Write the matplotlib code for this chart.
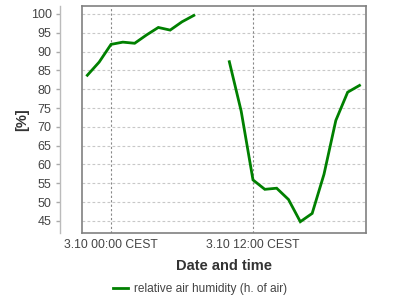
import numpy as np
import matplotlib
matplotlib.use("Agg")
import matplotlib.pyplot as plt
from matplotlib.lines import Line2D

plt.rcParams['font.family'] = ['Liberation Sans', 'DejaVu Sans']

hours = [-2, -1, 0, 1, 2, 3, 4, 5, 6, 7, 8, 9, 10, 11, 12, 13, 14, 15, 16, 17, 18, 19, 20, 21]
humidity = [83.7, 87.2, 91.9, 92.5, 92.2, 94.4, 96.4, 95.7, 97.9, 99.6, np.nan, np.nan,
            87.3, 74.2, 55.9, 53.4, 53.7, 50.7, 44.8, 47.0, 57.4, 71.7, 79.2, 81.0]
x_tick_pos = [0, 12]
x_tick_labels = ["3.10 00:00 CEST", "3.10 12:00 CEST"]
y_ticks = [45, 50, 55, 60, 65, 70, 75, 80, 85, 90, 95, 100]
series_label = "relative air humidity (h. of air)"

fig = plt.figure(figsize=(4, 3), dpi=100)
ax = fig.add_axes([82/400, (300-233)/300, (366-82)/400, (233-6)/300])

ax.plot(hours, humidity, color='#008000', lw=2, solid_joinstyle='miter')
ax.set_xlim(-2.45, 21.55)
ax.set_ylim(41.8, 102.1)

ax.set_yticks(y_ticks)
ax.set_xticks(x_tick_pos)
ax.set_xticklabels(x_tick_labels)
ax.tick_params(axis='y', length=3, width=1, color='#aaaaaa', labelsize=9, labelcolor='#444444', pad=3)
ax.tick_params(axis='x', length=0, labelsize=8.7, labelcolor='#444444', pad=4)

for y in y_ticks:
    ax.axhline(y, color='#c8c8c8', lw=0.8, ls=(0, (2.5, 2)), zorder=0)
for x in x_tick_pos:
    ax.axvline(x, color='#888888', lw=0.8, ls=(0, (2, 2)), zorder=0)

for s in ['top', 'right', 'bottom']:
    ax.spines[s].set_color('#808080')
    ax.spines[s].set_linewidth(1.2)
ax.spines['left'].set_position(('outward', 22 * 72 / 100))
ax.spines['left'].set_color('#bbbbbb')
ax.spines['left'].set_linewidth(1)
ax.spines['left'].set_bounds(41.8, 102.1)
ax.plot([0, 0], [0, 1], transform=ax.transAxes, color='#808080', lw=1.2, clip_on=False)

ax.set_xlabel("Date and time", fontsize=10.5, fontweight='bold', color='#333333', labelpad=6)
ax.set_ylabel("[%]", fontsize=10.5, fontweight='bold', color='#333333', labelpad=1)

handle = Line2D([], [], color='#008000', lw=2)
fig.legend([handle], [series_label], loc='center', bbox_to_anchor=(0.5, 1 - 289/300),
           frameon=False, fontsize=8.6, handlelength=1.3, handletextpad=0.5,
           labelcolor='#444444')

fig.savefig("out.png", dpi=100)
